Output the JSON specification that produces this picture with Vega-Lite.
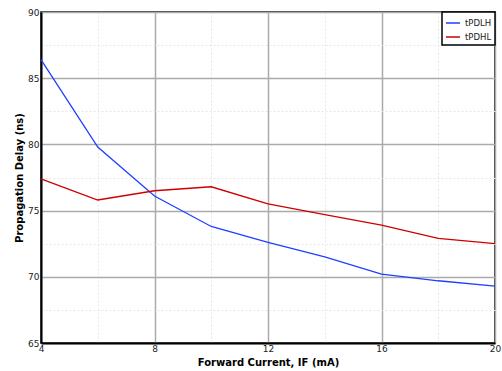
{
  "$schema": "https://vega.github.io/schema/vega-lite/v6.json",
  "width": 454,
  "height": 331,
  "autosize": {"type": "none"},
  "padding": {"left": 41, "top": 12, "right": 7, "bottom": 28},
  "config": {
    "font": "DejaVu Sans",
    "view": {"stroke": "#000", "strokeWidth": 1.5},
    "legend": {"strokeWidth": 1.5},
    "axis": {"labelFont": "DejaVu Sans", "titleFont": "DejaVu Sans", "labelFontSize": 9, "labelColor": "#222", "titleFontSize": 10, "titleFontWeight": "bold", "titleColor": "#000", "domainColor": "#000", "domainWidth": 2, "labelFlush": false}
  },
  "data": {"values": [
    {"current": 4, "delay": 86.4, "series": "tPDLH"},
    {"current": 6, "delay": 79.8, "series": "tPDLH"},
    {"current": 8, "delay": 76.1, "series": "tPDLH"},
    {"current": 10, "delay": 73.8, "series": "tPDLH"},
    {"current": 12, "delay": 72.6, "series": "tPDLH"},
    {"current": 14, "delay": 71.5, "series": "tPDLH"},
    {"current": 16, "delay": 70.2, "series": "tPDLH"},
    {"current": 18, "delay": 69.7, "series": "tPDLH"},
    {"current": 20, "delay": 69.3, "series": "tPDLH"},
    {"current": 4, "delay": 77.4, "series": "tPDHL"},
    {"current": 6, "delay": 75.8, "series": "tPDHL"},
    {"current": 8, "delay": 76.5, "series": "tPDHL"},
    {"current": 10, "delay": 76.8, "series": "tPDHL"},
    {"current": 12, "delay": 75.5, "series": "tPDHL"},
    {"current": 14, "delay": 74.7, "series": "tPDHL"},
    {"current": 16, "delay": 73.9, "series": "tPDHL"},
    {"current": 18, "delay": 72.9, "series": "tPDHL"},
    {"current": 20, "delay": 72.5, "series": "tPDHL"}
  ]},
  "mark": {"type": "line", "strokeWidth": 1.3},
  "encoding": {
    "x": {
      "field": "current", "type": "quantitative",
      "scale": {"domain": [4, 20], "nice": false, "zero": false},
      "axis": {
        "title": "Forward Current, IF (mA)",
        "values": [4, 6, 8, 10, 12, 14, 16, 18, 20],
        "labelExpr": "datum.value % 4 === 0 ? datum.label : ''",
        "labelPadding": 1,
        "titlePadding": 4,
        "ticks": false,
        "grid": true,
        "gridColor": {"condition": {"test": "datum.value % 4 === 0", "value": "#aaaaaa"}, "value": "#e6e6e6"},
        "gridWidth": {"condition": {"test": "datum.value % 4 === 0", "value": 1.5}, "value": 1},
        "gridDash": {"condition": {"test": "datum.value % 4 === 0", "value": []}, "value": [2, 2]}
      }
    },
    "y": {
      "field": "delay", "type": "quantitative",
      "scale": {"domain": [65, 90], "nice": false, "zero": false},
      "axis": {
        "title": "Propagation Delay (ns)",
        "values": [65, 67.5, 70, 72.5, 75, 77.5, 80, 82.5, 85, 87.5, 90],
        "labelExpr": "datum.value % 5 === 0 ? format(datum.value, 'd') : ''",
        "labelPadding": 2,
        "titlePadding": 3,
        "ticks": false,
        "grid": true,
        "gridColor": {"condition": {"test": "datum.value % 5 === 0", "value": "#aaaaaa"}, "value": "#e6e6e6"},
        "gridWidth": {"condition": {"test": "datum.value % 5 === 0", "value": 1.5}, "value": 1},
        "gridDash": {"condition": {"test": "datum.value % 5 === 0", "value": []}, "value": [2, 2]}
      }
    },
    "color": {
      "field": "series", "type": "nominal",
      "scale": {"domain": ["tPDLH", "tPDHL"], "range": ["#1f3fff", "#cc0000"]},
      "legend": {
        "title": null,
        "orient": "top-right",
        "offset": 0,
        "strokeColor": "#000",
        "fillColor": "#fff",
        "padding": 3,
        "symbolType": "stroke",
        "symbolSize": 200,
        "symbolStrokeWidth": 1.5,
        "labelFont": "DejaVu Sans",
        "labelFontSize": 8.5,
        "labelColor": "#222",
        "rowPadding": 1
      }
    }
  }
}
